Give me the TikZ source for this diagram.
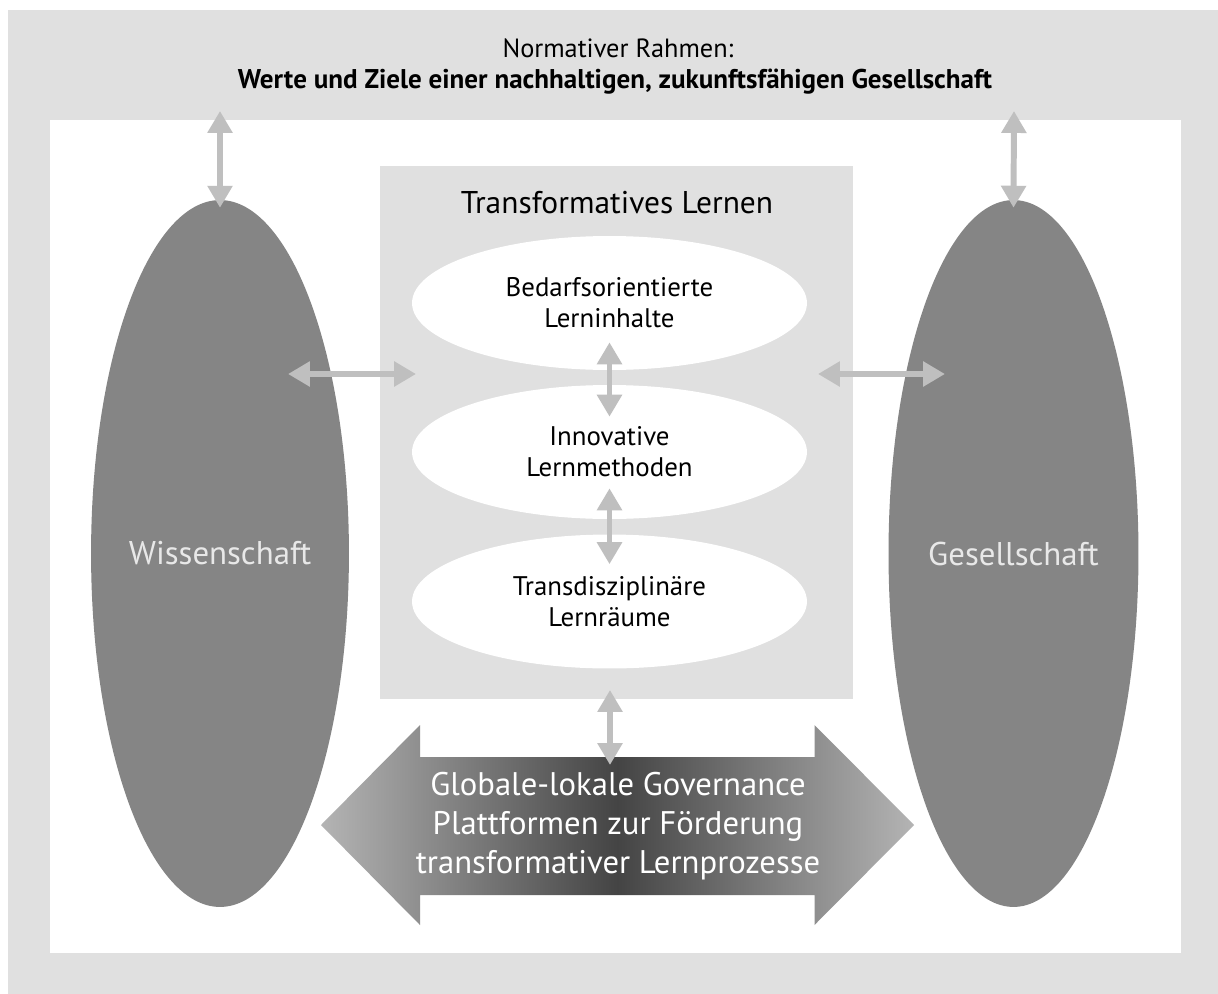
\documentclass[tikz,border=0pt]{standalone}
\usepackage{fontspec}
\setmainfont{PT Sans}
\usepackage{tikz}
\usetikzlibrary{calc,shapes.geometric,arrows.meta}
\definecolor{framegray}{RGB}{224,224,224}
\definecolor{arrowgray}{RGB}{191,191,191}
\definecolor{ovalgray}{RGB}{133,133,133}
\definecolor{ovaltext}{RGB}{232,232,232}
\definecolor{tipgray}{RGB}{180,180,180}
\definecolor{coregray}{RGB}{68,68,68}

\begin{document}
\begin{tikzpicture}[x=0.02cm,y=-0.02cm,>={Triangle[width=13.7pt,length=12.5pt]}]
\tikzstyle{big oval}=[ellipse,fill=ovalgray,inner sep=0,minimum width=5cm,minimum height=14.14cm,text=ovaltext,font=\fontsize{18.7pt}{22pt}\selectfont]
\tikzstyle{small oval}=[ellipse,fill=white,inner sep=0,minimum width=7.9cm,minimum height=2.68cm,align=center,font=\fontsize{15.3pt}{17.6pt}\selectfont]
\tikzstyle{link}=[arrowgray,line width=3.4pt,<->]

\useasboundingbox (0,0) rectangle (1218,994);
% normative frame
\fill[framegray] (8,10) rectangle (1218,994);
\fill[white] (50,120) rectangle (1181,953);
\node(norm)[anchor=base,font=\fontsize{15pt}{18pt}\selectfont] at (618,57) {Normativer Rahmen:};
\node(werte)[anchor=base,font=\fontsize{15.4pt}{18pt}\selectfont\bfseries] at (615,88) {Werte und Ziele einer nachhaltigen, zukunftsfähigen Gesellschaft};

% actors
\node(wiss)[big oval] at (220,553.5) {Wissenschaft};
\node(gesell)[big oval] at (1013.5,553.5) {Gesellschaft};

% transformative learning
\node(box)[fill=framegray,inner sep=0,minimum width=9.46cm,minimum height=10.66cm] at (616.5,432.5) {};
\node(title)[anchor=base,font=\fontsize{17.9pt}{21pt}\selectfont] at (617,213) {Transformatives Lernen};
\node(e1)[small oval] at (609.5,303) {Bedarfsorientierte\\Lerninhalte};
\node(e2)[small oval] at (609.5,452) {Innovative\\Lernmethoden};
\node(e3)[small oval] at (609.5,601.5) {Transdisziplinäre\\Lernräume};

% governance arrow
\shade[left color=tipgray,right color=tipgray,middle color=coregray]
  (321,825) -- (420,725) -- (420,757) -- (814.5,757) -- (814.5,725) -- (914,825)
  -- (814.5,925) -- (814.5,895) -- (420,895) -- (420,925) -- cycle;
\node(gov)[align=center,text=white,font=\fontsize{18.6pt}{22.4pt}\selectfont] at (618,826)
  {Globale-lokale Governance\\Plattformen zur Förderung\\transformativer Lernprozesse};
\coordinate(govtop) at (610,757);

% links
\coordinate(wtop) at (220,111);
\coordinate(gtop) at (1014,111);
\coordinate(wl) at (288,374);
\coordinate(bl) at (416,374);
\coordinate(br) at (818,374);
\coordinate(gr) at (945,374);
\coordinate(boxbot) at (610,699);
\draw[link] (wtop) -- ($(wiss.north)+(0,8)$);
\draw[link] (gtop) -- ($(gesell.north)+(0,8)$);
\draw[link] (wl) -- (bl);
\draw[link] (br) -- (gr);
\draw[link] ($(e1.south)+(0,-28)$) -- ($(e2.north)+(0,32)$);
\draw[link] ($(e2.south)+(0,-31)$) -- ($(e3.north)+(0,30)$);
\draw[link] ($(boxbot)+(0,-9)$) -- ($(govtop)+(0,8)$);

\end{tikzpicture}
\end{document}
